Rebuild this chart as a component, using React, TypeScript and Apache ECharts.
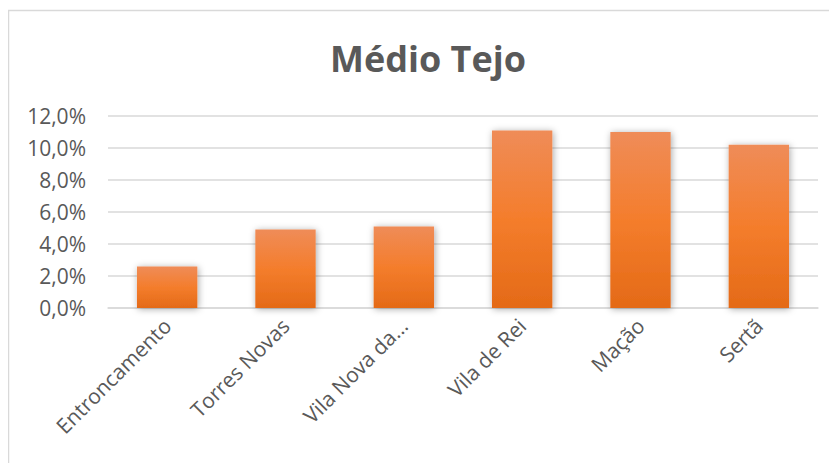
import React, { useEffect, useRef } from "react";
import * as echarts from "echarts";

const title = "Médio Tejo";
const categories = ["Entroncamento", "Torres Novas", "Vila Nova da...", "Vila de Rei", "Mação", "Sertã"];
const values = [2.6, 4.9, 5.1, 11.1, 11.0, 10.2];
const yMin = 0;
const yMax = 12;
const yStep = 2;

export default function App() {
  const ref = useRef<HTMLDivElement>(null);
  useEffect(() => {
    if (!ref.current) return;
    const chart = echarts.init(ref.current, undefined, { renderer: "svg" });
    const font = "'Open Sans', sans-serif";
    chart.setOption({
      animation: false,
      backgroundColor: "#ffffff",
      graphic: [
        {
          type: "rect",
          shape: { x: 0.5, y: 2.5, width: 1000, height: 1000 },
          style: { fill: "none", stroke: "#d9d9d9", lineWidth: 1.5 },
          silent: true,
          z: -1,
        },
        {
          type: "text",
          x: 420,
          y: 50,
          style: {
            text: title,
            fontFamily: font,
            fontWeight: "bold",
            fontSize: 36,
            fill: "#595959",
            textAlign: "center",
            textVerticalAlign: "middle",
          },
        },
      ],
      grid: { left: 100, width: 710, top: 108, height: 192 },
      xAxis: {
        type: "category",
        data: categories,
        axisLine: { show: true, lineStyle: { color: "#d9d9d9", width: 1.5 } },
        axisTick: { show: false },
        axisLabel: {
          rotate: 45,
          interval: 0,
          margin: 14,
          color: "#595959",
          fontFamily: font,
          fontSize: 21,
        },
      },
      yAxis: {
        type: "value",
        min: yMin,
        max: yMax,
        interval: yStep,
        axisLine: { show: false },
        axisTick: { show: false },
        splitLine: { lineStyle: { color: "#d9d9d9", width: 1.5 } },
        axisLabel: {
          margin: 22,
          color: "#595959",
          fontFamily: font,
          fontSize: 21,
          formatter: (v: number) => v.toFixed(1).replace(".", ",") + "%",
        },
      },
      series: [
        {
          type: "bar",
          data: values,
          barCategoryGap: "49%",
          itemStyle: {
            color: new echarts.graphic.LinearGradient(0, 0, 0, 1, [
              { offset: 0, color: "#EF8C58" },
              { offset: 0.5, color: "#F47D2C" },
              { offset: 1, color: "#E46A17" },
            ]),
            shadowBlur: 7,
            shadowColor: "rgba(0,0,0,0.35)",
            shadowOffsetX: 1,
            shadowOffsetY: 1,
          },
        },
      ],
    });
    return () => chart.dispose();
  }, []);
  return <div ref={ref} style={{ width: 829, height: 455 }} />;
}
